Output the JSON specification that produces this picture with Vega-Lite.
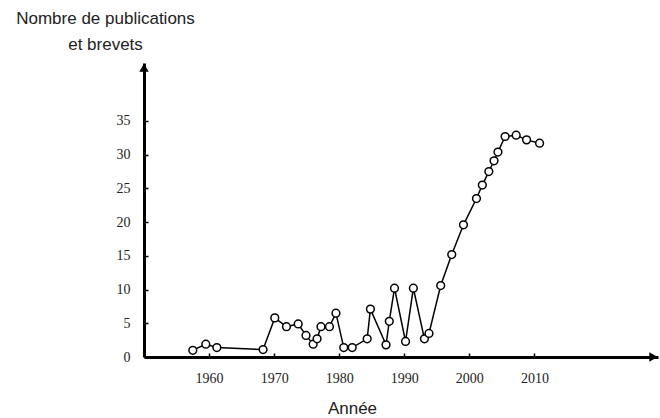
{
  "$schema": "https://vega.github.io/schema/vega-lite/v6.json",
  "autosize": "none",
  "width": 514,
  "height": 294,
  "padding": {"left": 144, "top": 63, "right": 2, "bottom": 61},
  "background": "white",
  "datasets": {
    "pts": [
      {"year": 1957.5, "value": 1.0},
      {"year": 1959.5, "value": 1.9},
      {"year": 1961.2, "value": 1.4},
      {"year": 1968.3, "value": 1.1},
      {"year": 1970.1, "value": 5.8},
      {"year": 1971.9, "value": 4.5},
      {"year": 1973.7, "value": 4.9},
      {"year": 1974.9, "value": 3.2},
      {"year": 1976.0, "value": 1.9},
      {"year": 1976.6, "value": 2.7},
      {"year": 1977.2, "value": 4.5},
      {"year": 1978.5, "value": 4.5},
      {"year": 1979.5, "value": 6.5},
      {"year": 1980.7, "value": 1.4},
      {"year": 1982.0, "value": 1.4},
      {"year": 1984.3, "value": 2.7},
      {"year": 1984.8, "value": 7.1},
      {"year": 1987.2, "value": 1.8},
      {"year": 1987.7, "value": 5.3},
      {"year": 1988.5, "value": 10.2},
      {"year": 1990.2, "value": 2.3},
      {"year": 1991.4, "value": 10.2},
      {"year": 1993.1, "value": 2.7},
      {"year": 1993.8, "value": 3.5},
      {"year": 1995.6, "value": 10.6},
      {"year": 1997.3, "value": 15.2},
      {"year": 1999.1, "value": 19.6},
      {"year": 2001.1, "value": 23.5},
      {"year": 2002.0, "value": 25.5},
      {"year": 2003.0, "value": 27.5},
      {"year": 2003.8, "value": 29.1},
      {"year": 2004.4, "value": 30.4},
      {"year": 2005.5, "value": 32.7},
      {"year": 2007.2, "value": 32.9},
      {"year": 2008.8, "value": 32.2},
      {"year": 2010.8, "value": 31.7}
    ],
    "arrows": [
      {"year": 1950, "value": 42.9, "shape": "triangle-up"},
      {"year": 2028.3, "value": 0, "shape": "triangle-right"}
    ]
  },
  "config": {
    "view": {"stroke": null},
    "axis": {
      "grid": false,
      "domainColor": "black",
      "domainWidth": 3,
      "tickColor": "black",
      "tickWidth": 1.5,
      "labelFont": "Liberation Serif",
      "labelFontSize": 14,
      "labelColor": "#222",
      "titleFont": "Liberation Sans",
      "titleFontSize": 17,
      "titleFontWeight": "normal",
      "titleColor": "#222"
    }
  },
  "layer": [
    {
      "data": {"name": "pts"},
      "mark": {"type": "line", "color": "black", "strokeWidth": 1.5},
      "encoding": {
        "x": {
          "field": "year", "type": "quantitative",
          "scale": {"domain": [1950, 2029], "nice": false, "zero": false},
          "axis": {
            "values": [1960, 1970, 1980, 1990, 2000, 2010],
            "format": "d",
            "tickSize": -4,
            "labelPadding": 18,
            "title": "Année",
            "titleX": 208,
            "titleY": 51,
            "titleAlign": "center",
            "titleBaseline": "middle"
          }
        },
        "y": {
          "field": "value", "type": "quantitative",
          "scale": {"domain": [0, 43.6], "nice": false},
          "axis": {
            "values": [0, 5, 10, 15, 20, 25, 30, 35],
            "tickSize": -4,
            "labelPadding": 18,
            "title": ["Nombre de publications", "et brevets"],
            "titleAngle": 0,
            "titleX": -39,
            "titleY": -45,
            "titleAlign": "center",
            "titleBaseline": "middle",
            "titleLineHeight": 26
          }
        }
      }
    },
    {
      "data": {"name": "pts"},
      "mark": {"type": "point", "shape": "circle", "filled": true, "fill": "white", "stroke": "black", "strokeWidth": 1.5, "size": 60, "opacity": 1},
      "encoding": {
        "x": {"field": "year", "type": "quantitative"},
        "y": {"field": "value", "type": "quantitative"}
      }
    },
    {
      "data": {"name": "arrows"},
      "mark": {"type": "point", "filled": true, "color": "black", "size": 90, "opacity": 1, "clip": false},
      "encoding": {
        "x": {"field": "year", "type": "quantitative"},
        "y": {"field": "value", "type": "quantitative"},
        "shape": {"field": "shape", "type": "nominal", "scale": null}
      }
    }
  ]
}
